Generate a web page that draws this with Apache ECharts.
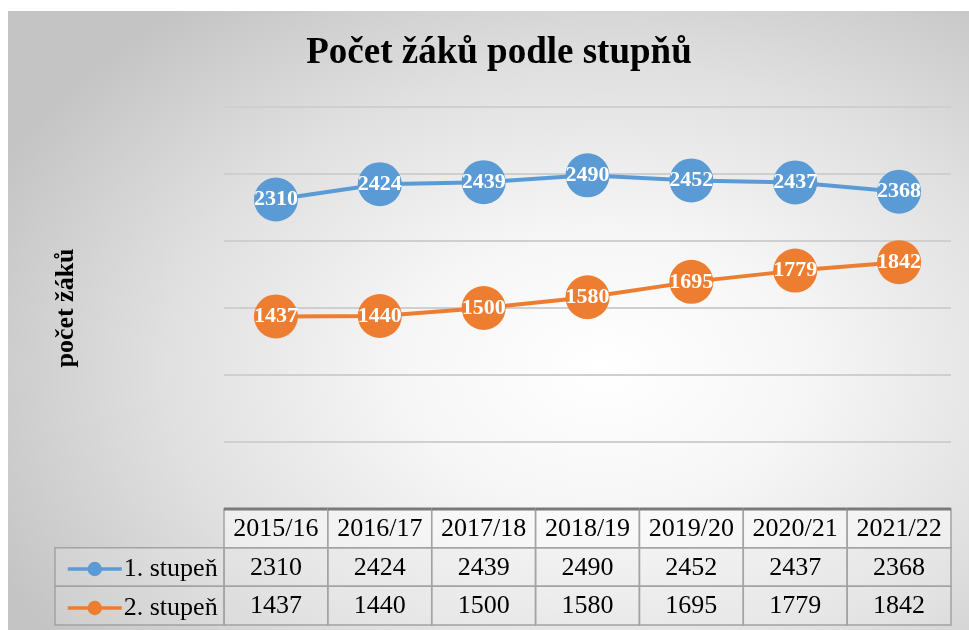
<!DOCTYPE html>
<html>
<head>
<meta charset="utf-8">
<script src="https://cdn.jsdelivr.net/npm/echarts@6/dist/echarts.min.js"></script>
<style>
  html, body { margin: 0; padding: 0; background: #ffffff; }
  #bg {
    position: absolute; left: 8px; top: 11px; width: 961px; height: 619px;
    background: radial-gradient(ellipse 70% 75% at 62% 58%, #ffffff 0%, #f6f6f6 30%, #e0e0e0 65%, #c4c4c4 100%);
  }
  #chart { position: absolute; left: 0; top: 0; width: 969px; height: 630px; }
</style>
</head>
<body>
<div id="bg"></div>
<div id="chart"></div>
<script>
// školní roky a počty žáků
const years = ['2015/16', '2016/17', '2017/18', '2018/19', '2019/20', '2020/21', '2021/22'];
const stupen1 = [2310, 2424, 2439, 2490, 2452, 2437, 2368];
const stupen2 = [1437, 1440, 1500, 1580, 1695, 1779, 1842];
const seriesNames = ['1. stupeň', '2. stupeň'];
const colors = ['#5b9bd5', '#ed7d31'];

const serif = '"Liberation Serif", "DejaVu Serif", serif';

// buňky tabulky pod grafem (řádek 0 = hlavička)
const cells = [];
years.forEach((y, i) => {
  cells.push({ col: i, row: 0, text: y });
  cells.push({ col: i, row: 1, text: String(stupen1[i]) });
  cells.push({ col: i, row: 2, text: String(stupen2[i]) });
});
// levý sloupec s legendou (jen rámeček)
cells.push({ col: 0, row: 1, text: '', legendCol: true });
cells.push({ col: 0, row: 2, text: '', legendCol: true });

const chart = echarts.init(document.getElementById('chart'));

const lineSeries = (name, data, color) => ({
  name: name,
  type: 'line',
  data: data,
  xAxisIndex: 0,
  yAxisIndex: 0,
  color: color,
  lineStyle: { width: 4, color: color },
  symbol: 'circle',
  symbolSize: 44,
  itemStyle: { color: color },
  label: {
    show: true,
    position: 'inside',
    color: '#ffffff',
    fontFamily: serif,
    fontWeight: 'bold',
    fontSize: 22
  },
  z: 3
});

// jedna legenda pro každý řádek tabulky
const legendRow = (name, top) => ({
  orient: 'vertical',
  left: 61,
  top: top,
  itemWidth: 54,
  itemHeight: 18,
  data: [name],
  lineStyle: { width: 3.5 },
  textStyle: { fontFamily: serif, fontSize: 26, color: '#000000', padding: [0, 0, 0, -3] }
});

const option = {
  backgroundColor: 'transparent',
  animation: false,
  title: {
    text: 'Počet žáků podle stupňů',
    left: 494,
    textAlign: 'center',
    top: 30,
    textStyle: { fontFamily: serif, fontWeight: 'bold', fontSize: 37, color: '#000000' }
  },
  legend: [
    legendRow(seriesNames[0], 551),
    legendRow(seriesNames[1], 590)
  ],
  grid: [
    { left: 224, right: 18, top: 107, bottom: 121 },
    { left: 224, right: 18, top: 509, bottom: 5 }
  ],
  xAxis: [
    {
      type: 'category',
      gridIndex: 0,
      data: years,
      boundaryGap: true,
      axisLine: { show: false },
      axisTick: { show: false },
      axisLabel: { show: false }
    },
    {
      type: 'category',
      gridIndex: 1,
      data: years,
      show: false
    }
  ],
  yAxis: [
    {
      type: 'value',
      gridIndex: 0,
      min: 0,
      max: 3000,
      interval: 500,
      name: 'počet žáků',
      nameLocation: 'middle',
      nameRotate: 90,
      nameGap: 145,
      nameTextStyle: { fontFamily: serif, fontWeight: 'bold', fontSize: 26, color: '#000000' },
      axisLine: { show: false },
      axisTick: { show: false },
      axisLabel: { show: false },
      splitLine: { lineStyle: { color: '#cfcfcf', width: 2 } }
    },
    {
      type: 'category',
      gridIndex: 1,
      data: ['hlavička', seriesNames[0], seriesNames[1]],
      inverse: true,
      show: false
    }
  ],
  series: [
    lineSeries(seriesNames[0], stupen1, colors[0]),
    lineSeries(seriesNames[1], stupen2, colors[1]),
    {
      type: 'custom',
      xAxisIndex: 1,
      yAxisIndex: 1,
      silent: true,
      data: cells.map(c => [c.col, c.row]),
      renderItem: function (params, api) {
        const cell = cells[params.dataIndex];
        const c = api.coord([api.value(0), api.value(1)]);
        const s = api.size([1, 1]);
        let x0 = c[0] - s[0] / 2;
        let w = s[0];
        const y0 = c[1] - s[1] / 2;
        const h = s[1];
        if (cell.legendCol) {
          w = x0 - 55;
          x0 = 55;
        }
        const children = [
          {
            type: 'rect',
            shape: { x: x0, y: y0, width: w, height: h },
            style: { fill: cell.row === 0 ? 'rgba(255,255,255,0.45)' : 'rgba(255,255,255,0.15)', stroke: '#a3a3a3', lineWidth: 1.5 }
          }
        ];
        if (cell.row === 0) {
          children.push({
            type: 'line',
            shape: { x1: x0, y1: y0, x2: x0 + w, y2: y0 },
            style: { stroke: '#7a7a7a', lineWidth: 3 }
          });
        }
        if (cell.text) {
          children.push({
            type: 'text',
            style: {
              x: x0 + w / 2,
              y: y0 + h / 2 + 1,
              text: cell.text,
              fill: '#000000',
              font: '26px ' + serif,
              align: 'center',
              verticalAlign: 'middle'
            }
          });
        }
        return { type: 'group', children: children };
      },
      z: 1
    }
  ]
};

chart.setOption(option);
</script>
</body>
</html>
